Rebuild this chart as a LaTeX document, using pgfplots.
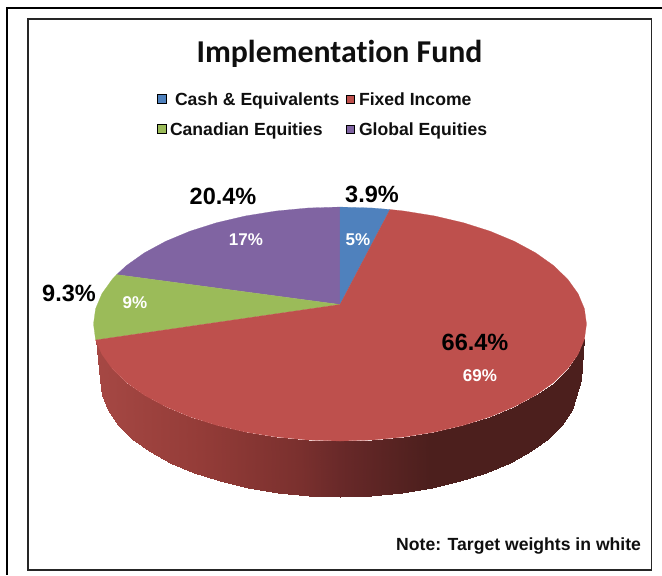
\documentclass[border=0pt]{standalone}
\usepackage{fontspec}
\setmainfont{Liberation Sans}
\newfontfamily\carlito[Ligatures=NoCommon]{Carlito}
\usepackage{pgfplots}
\pgfplotsset{compat=1.18}
\definecolor{cblue}{RGB}{79,129,189}
\definecolor{cred}{RGB}{190,80,77}
\definecolor{cgreen}{RGB}{155,187,89}
\definecolor{cpurple}{RGB}{128,100,162}
\definecolor{ctxt}{RGB}{15,15,15}
\tikzset{T/.style={inner sep=0pt, outer sep=0pt}}
\begin{document}
\begin{tikzpicture}
\begin{axis}[
  scale only axis, width=662pt, height=575pt,
  xmin=0, xmax=662, ymin=0, ymax=575, y dir=reverse,
  hide axis, view={0}{90},
  colormap={sidered}{rgb255(0)=(166,72,68); rgb255(105)=(148,60,56); rgb255(205)=(122,48,46); rgb255(245)=(105,41,41); rgb255(335)=(76,31,29); rgb255(492)=(76,31,29)},
  point meta min=95, point meta max=587,
]
\path (axis cs:0,0) rectangle (axis cs:662,575);
% frames
\addplot[draw=black, line width=1.5pt, forget plot] coordinates {(662,7.8)(7,7.8)(7,575)};
\addplot[draw=black!85, line width=1.2pt, forget plot] coordinates {(28,19)(651.3,19)(651.3,570)(28,570)} --cycle;
% side wall of the pie
\addplot3[surf, shader=interp, mesh/rows=2, point meta=x, forget plot] coordinates {
(584.4,339.3,0)(578.1,354.3,0)(567.7,368.8,0)(553.5,382.5,0)(535.6,395.2,0)(514.3,406.7,0)(490.1,416.8,0)(463.3,425.3,0)(434.3,432.1,0)(403.8,437,0)(372.2,440,0)(340,441,0)(307.8,440,0)(276.2,437,0)(245.7,432.1,0)(216.7,425.3,0)(189.9,416.8,0)(165.7,406.7,0)(144.4,395.2,0)(126.5,382.5,0)(112.3,368.8,0)(101.9,354.3,0)(95.6,339.3,0)(95.6,339.3,0)

(580.5,380,0)(572.3,410.3,0)(562.2,424.8,0)(548.3,438.5,0)(530.8,451.2,0)(510.1,462.7,0)(486.4,472.8,0)(460.3,481.3,0)(432,488.1,0)(402.2,493,0)(371.4,496,0)(340,497,0)(308.6,496,0)(277.8,493,0)(248,488.1,0)(219.7,481.3,0)(193.6,472.8,0)(169.9,462.7,0)(149.2,451.2,0)(131.7,438.5,0)(117.8,424.8,0)(107.7,410.3,0)(101.6,395.3,0)(99.5,380,0)
};
% sectors of the top face
\addplot[fill=cpurple, draw=cpurple, line width=0.2pt, forget plot] coordinates {
(340,304.5)(116.6,274.6)(126.5,265.5)(144.4,252.8)(165.7,241.3)(189.9,231.2)(216.7,222.7)(245.7,215.9)(276.2,211)(307.8,208)(340,207)} --cycle;
\addplot[fill=cgreen, draw=cgreen, line width=0.2pt, forget plot] coordinates {
(340,304.5)(95.6,340)(93.5,324)(95.6,308.7)(101.9,293.7)(112.3,279.2)(116.6,274.6)} --cycle;
\addplot[fill=cblue, draw=cblue, line width=0.2pt, forget plot] coordinates {
(340,304.5)(340,207)(372.2,208)(390,209.5)} --cycle;
\addplot[fill=cred, draw=cred, line width=0.2pt, forget plot] coordinates {
(340,304.5)(390,209.5)(403.8,211)(434.3,215.9)(463.3,222.7)(490.1,231.2)(514.3,241.3)(535.6,252.8)(553.5,265.5)(567.7,279.2)(578.1,293.7)(584.4,308.7)(586.5,324)(584.4,339.3)(578.1,354.3)(567.7,368.8)(553.5,382.5)(535.6,395.2)(514.3,406.7)(490.1,416.8)(463.3,425.3)(434.3,432.1)(403.8,437)(372.2,440)(340,441)(307.8,440)(276.2,437)(245.7,432.1)(216.7,425.3)(189.9,416.8)(165.7,406.7)(144.4,395.2)(126.5,382.5)(112.3,368.8)(101.9,354.3)(95.6,340)} --cycle;
% legend markers
\addplot[only marks, mark=square*, mark size=4.4pt, mark options={draw=none, fill=cblue}, forget plot] coordinates {(161.5,99)};
\addplot[only marks, mark=square*, mark size=4.2pt, mark options={draw=none, fill=cred}, forget plot] coordinates {(350,99)};
\addplot[only marks, mark=square*, mark size=4.4pt, mark options={draw=none, fill=cgreen}, forget plot] coordinates {(161.5,129)};
\addplot[only marks, mark=square*, mark size=4.2pt, mark options={draw=none, fill=cpurple}, forget plot] coordinates {(350,129)};
% texts
\node[T, anchor=base, font=\carlito\fontsize{31.8}{31.8}\selectfont\bfseries, text=ctxt] at (axis cs:339.5,62) {Implementation Fund};
\node[T, anchor=base west, font=\fontsize{17.6}{17.6}\selectfont\bfseries, text=ctxt] at (axis cs:175,105) {Cash \& Equivalents};
\node[T, anchor=base west, font=\fontsize{17.6}{17.6}\selectfont\bfseries, text=ctxt] at (axis cs:359,105) {Fixed Income};
\node[T, anchor=base west, font=\fontsize{17.6}{17.6}\selectfont\bfseries, text=ctxt] at (axis cs:170,135) {Canadian Equities};
\node[T, anchor=base west, font=\fontsize{17.6}{17.6}\selectfont\bfseries, text=ctxt] at (axis cs:359,135) {Global Equities};
\node[T, anchor=base, font=\fontsize{23.5}{23.5}\selectfont\bfseries] at (axis cs:372,202) {3.9\%};
\node[T, anchor=base, font=\fontsize{23.5}{23.5}\selectfont\bfseries] at (axis cs:223,204) {20.4\%};
\node[T, anchor=base, font=\fontsize{23.5}{23.5}\selectfont\bfseries] at (axis cs:69,301) {9.3\%};
\node[T, anchor=base, font=\fontsize{23.5}{23.5}\selectfont\bfseries] at (axis cs:475,350) {66.4\%};
\node[T, anchor=base, font=\fontsize{17}{17}\selectfont\bfseries, text=white] at (axis cs:480,381.5) {69\%};
\node[T, anchor=base, font=\fontsize{17}{17}\selectfont\bfseries, text=white] at (axis cs:358,245.5) {5\%};
\node[T, anchor=base, font=\fontsize{17}{17}\selectfont\bfseries, text=white] at (axis cs:246,245) {17\%};
\node[T, anchor=base, font=\fontsize{17}{17}\selectfont\bfseries, text=white] at (axis cs:135,308) {9\%};
\node[T, anchor=base east, font=\fontsize{17.6}{17.6}\selectfont\bfseries, text=ctxt] at (axis cs:641,550.7) {Note: Target weights in white};
\end{axis}
\end{tikzpicture}
\end{document}
